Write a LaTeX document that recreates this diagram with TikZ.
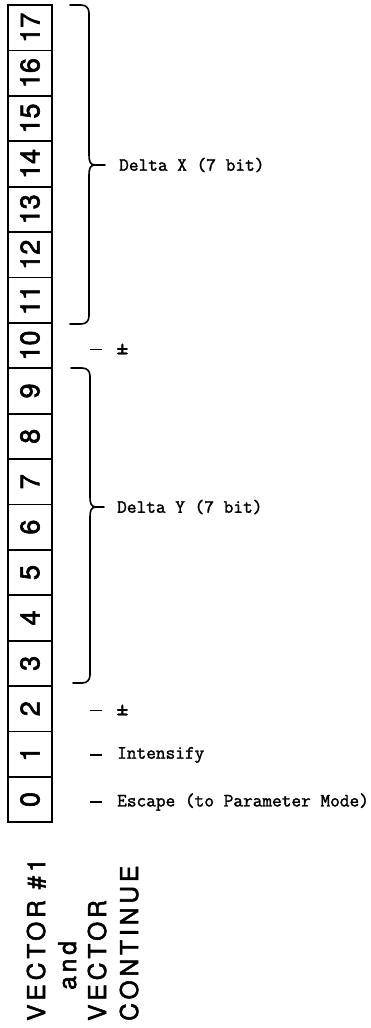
\documentclass[tikz,border=0pt]{standalone}
\usepackage{fontspec}
\newfontfamily\digitfont[FakeBold=2.2]{TeX Gyre Heros}
\newfontfamily\typefont[FakeBold=1.6]{Latin Modern Mono}
\newfontfamily\letterfont[LetterSpace=16,FakeBold=2.2]{TeX Gyre Heros}
\begin{document}
\begin{tikzpicture}[x=1pt,y=-1pt,
  cell/.style={draw,line width=1.8pt,rotate=90,minimum width=45.4pt,minimum height=44pt,
    inner sep=0pt,font=\digitfont\fontsize{27}{27}\selectfont},
  lbl/.style={anchor=west,inner sep=0pt,font=\typefont\fontsize{18.8}{18.8}\selectfont},
  pm/.style={lbl,font=\typefont\fontsize{24}{24}\selectfont},
  tick/.style={line width=1.8pt},
  brace/.style={line width=1.6pt,line cap=round,line join=round},
  title/.style={rotate=90,anchor=base west,inner sep=0pt,font=\letterfont\fontsize{24.5}{24.5}\selectfont}]
\useasboundingbox (0,0) rectangle (371,1028);

% the eighteen bit cells, bit 17 at the top
\foreach \n in {0,...,17}
  \node[cell] (b\n) at (30,{799.5-45.4*\n}) {\n};

% field labels
\node[lbl] (dx)  at (119,165) {Delta X (7 bit)};
\node[pm]  (s10) at (116,349) {±};
\node[lbl] (dy)  at (117,507) {Delta Y (7 bit)};
\node[pm]  (s2)  at (116,710) {±};
\node[lbl] (int) at (117,755) {Intensify};
\node[lbl] (esc) at (117,802) {Escape (to Parameter Mode)};

% short leaders in front of the single-bit labels
\foreach \l in {s10,s2}
  \draw[tick] ([xshift=-26pt,yshift=-0.5pt]\l.west) -- ([xshift=-14pt,yshift=-0.5pt]\l.west);
\foreach \l in {int,esc}
  \draw[tick] ([xshift=-27pt]\l.west) -- ([xshift=-15pt]\l.west);

% brace over bits 11-17
\draw[brace] (70,5) -- (81,5) .. controls (86,5) and (89,8) .. (89,13) -- (89,155)
  .. controls (89,161) and (90,165) .. (95,165) -- ([xshift=-14pt]dx.west);
\draw[brace] (95,165) .. controls (90,165) and (89,169) .. (89,175) -- (89,316)
  .. controls (89,321) and (86,324) .. (81,324) -- (70,324);

% brace over bits 3-9
\draw[brace] (71,368) -- (82,368) .. controls (87,368) and (90,371) .. (90,376) -- (90,497)
  .. controls (90,503) and (91,507) .. (96,507) -- ([xshift=-13pt]dy.west);
\draw[brace] (96,507) .. controls (91,507) and (90,511) .. (90,517) -- (90,675)
  .. controls (90,680) and (87,683) .. (82,683) -- (73,683);

% instruction name, set on its side
\node[title] (t1) at (45,1021) {VECTOR \#1};
\node[title] (t2) at (76,990) {and};
\node[title] (t3) at (106,1021) {VECTOR};
\node[title] (t4) at (138,1021) {CONTINUE};
\end{tikzpicture}
\end{document}
